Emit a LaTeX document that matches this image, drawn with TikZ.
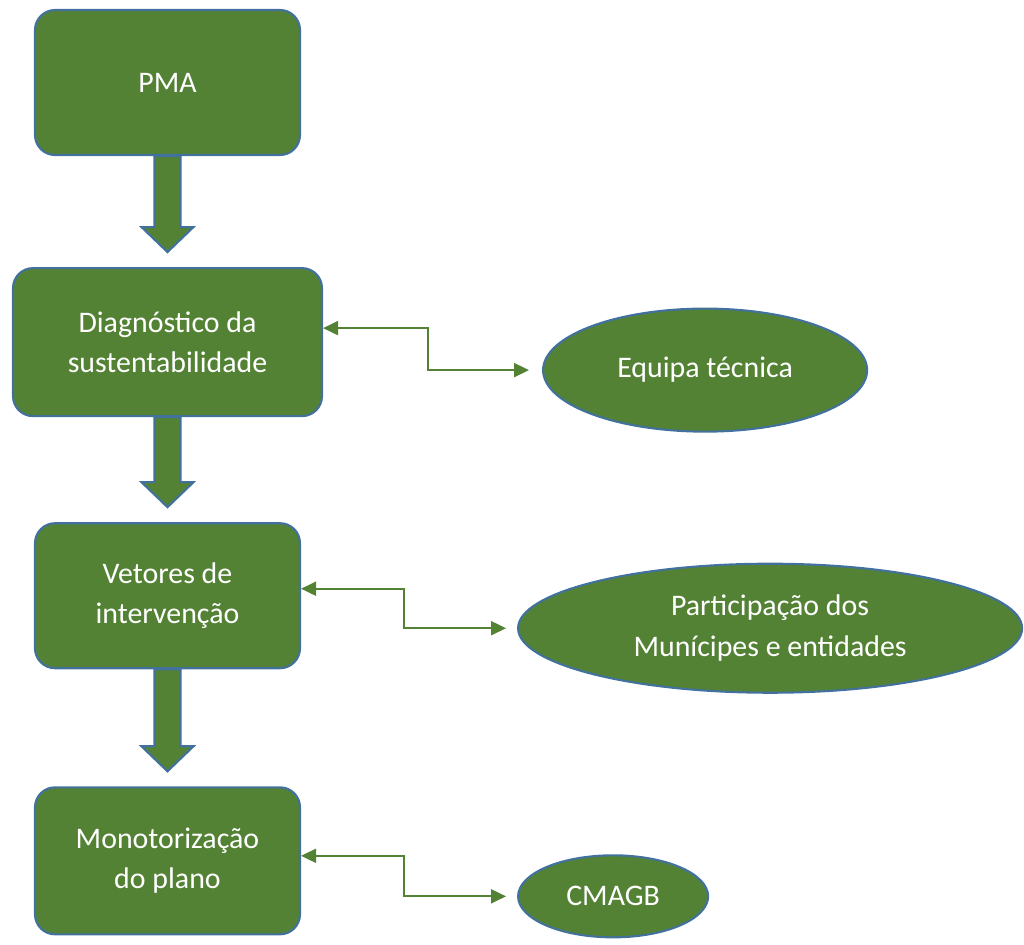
\documentclass[tikz,border=0pt]{standalone}
\usepackage{fontspec}
\setmainfont{Carlito}
\usepackage{tikz}
\usetikzlibrary{arrows.meta,positioning,shapes.geometric,calc}
\definecolor{verde}{HTML}{548235}
\definecolor{borde}{HTML}{41719C}

\newcommand{\flechabloque}[2]{%
  \draw[bloque] let \p1=(#1.south), \p2=($(#2.north)+(0,0.3)$) in
    (\x1-0.26cm,\y1) -- (\x1-0.26cm,\y2+0.5cm) -- (\x1-0.52cm,\y2+0.5cm) -- (\x1,\y2)
    -- (\x1+0.52cm,\y2+0.5cm) -- (\x1+0.26cm,\y2+0.5cm) -- (\x1+0.26cm,\y1) -- cycle;}

\begin{document}
\begin{tikzpicture}[
      caja/.style={rectangle, rounded corners=0.4cm, draw=borde, line width=1.2pt, fill=verde,
                   text=white, align=center, font=\fontsize{17}{23}\selectfont,
                   minimum width=5.3cm, minimum height=2.9cm, inner sep=0pt},
      elipse/.style={ellipse, draw=borde, line width=1.2pt, fill=verde, text=white,
                   align=center, font=\fontsize{17}{23}\selectfont, inner sep=0pt},
      bloque/.style={draw=borde, line width=1.2pt, fill=verde},
      conector/.style={{Triangle[length=0.3cm,width=0.28cm]}-{Triangle[length=0.3cm,width=0.28cm]},
                   draw=verde, line width=1.1pt}]

    \useasboundingbox (0,0) rectangle (20.48,-18.9);

    \node[caja] (pma) at (3.35,-1.65) {PMA};
    \node[caja, below=2.22cm of pma, minimum width=6.18cm, minimum height=2.96cm] (diag)
         {Diagnóstico da\\sustentabilidade};
    \node[caja, below=2.1cm of diag] (vet) {Vetores de\\intervenção};
    \node[caja, below=2.34cm of vet, minimum height=2.94cm] (mon) {Monotorização\\do plano};

    \node[elipse, right=4.38cm of diag, yshift=-0.56cm, minimum width=6.48cm, minimum height=2.46cm]
         (equipa) {Equipa técnica};
    \node[elipse, right=4.32cm of vet, yshift=-0.65cm, minimum width=10.08cm, minimum height=2.58cm]
         (part) {Participação dos\\Munícipes e entidades};
    \node[elipse, right=4.32cm of mon, yshift=-0.71cm, minimum width=3.8cm, minimum height=1.64cm]
         (cmagb) {CMAGB};

    \flechabloque{pma}{diag}
    \flechabloque{diag}{vet}
    \flechabloque{vet}{mon}

    \draw[conector, shorten >=0.26cm] ([yshift=0.28cm]diag.east) -- ++(2.1,0) |- (equipa.west);
    \draw[conector, shorten >=0.22cm] ([yshift=0.14cm]vet.east) -- ++(2.06,0) |- (part.west);
    \draw[conector, shorten >=0.22cm] ([yshift=0.1cm]mon.east) -- ++(2.06,0) |- (cmagb.west);
  \end{tikzpicture}
\end{document}
